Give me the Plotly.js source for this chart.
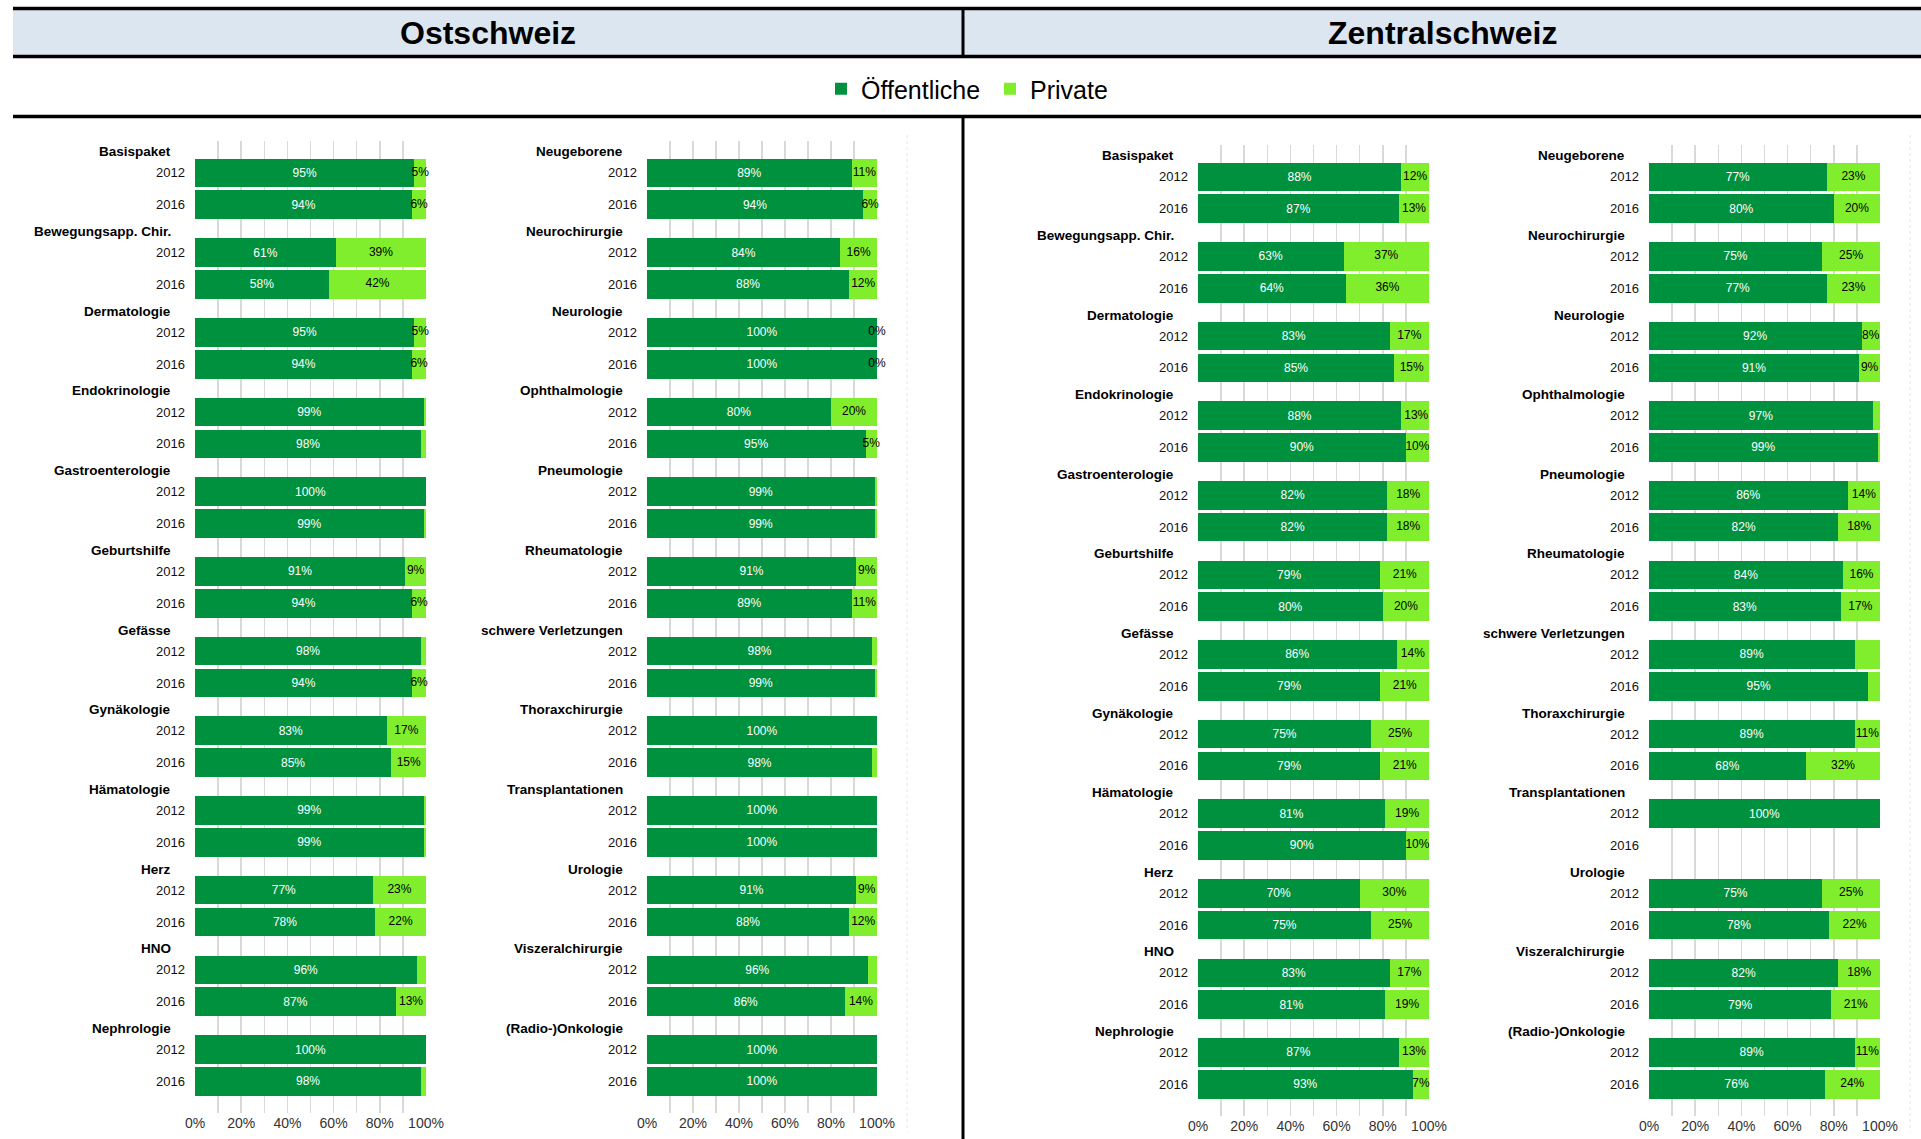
<!DOCTYPE html>
<html>
<head>
<meta charset="utf-8">
<script src="https://cdn.plot.ly/plotly-3.0.1.min.js"></script>
<style>
html,body{margin:0;padding:0;background:#fff;}
#chart{width:1921px;height:1139px;}
</style>
</head>
<body>
<div id="chart"></div>
<script>
// ---------------- DATA ----------------
const years = ['2012', '2016'];
const regions = ['Ostschweiz', 'Zentralschweiz'];
const seriesNames = ['Öffentliche', 'Private'];

const catsA = ['Basispaket', 'Bewegungsapp. Chir.', 'Dermatologie', 'Endokrinologie', 'Gastroenterologie',
  'Geburtshilfe', 'Gefässe', 'Gynäkologie', 'Hämatologie', 'Herz', 'HNO', 'Nephrologie'];
const catsB = ['Neugeborene', 'Neurochirurgie', 'Neurologie', 'Ophthalmologie', 'Pneumologie',
  'Rheumatologie', 'schwere Verletzungen', 'Thoraxchirurgie', 'Transplantationen', 'Urologie',
  'Viszeralchirurgie', '(Radio-)Onkologie'];

// Ostschweiz, left block
const ostA_pub2012 = [95, 61, 95, 99, 100, 91, 98, 83, 99, 77, 96, 100];
const ostA_pvt2012 = [5, 39, 5, 1, 0.4, 9, 2, 17, 1, 23, 4, 0];
const ostA_pub2016 = [94, 58, 94, 98, 99, 94, 94, 85, 99, 78, 87, 98];
const ostA_pvt2016 = [6, 42, 6, 2, 1, 6, 6, 15, 1, 22, 13, 2];
const ostA_lbl2012 = [1, 1, 1, 0, 0, 1, 0, 1, 0, 1, 0, 0];
const ostA_lbl2016 = [1, 1, 1, 0, 0, 1, 1, 1, 0, 1, 1, 0];

// Ostschweiz, right block
const ostB_pub2012 = [89, 84, 100, 80, 99, 91, 98, 100, 100, 91, 96, 100];
const ostB_pvt2012 = [11, 16, 0, 20, 1, 9, 2, 0.3, 0, 9, 4, 0.3];
const ostB_pub2016 = [94, 88, 100, 95, 99, 89, 99, 98, 100, 88, 86, 100];
const ostB_pvt2016 = [6, 12, 0, 5, 1, 11, 1, 2, 0, 12, 14, 0];
const ostB_lbl2012 = [1, 1, 1, 1, 0, 1, 0, 0, 0, 1, 0, 0];
const ostB_lbl2016 = [1, 1, 1, 1, 0, 1, 0, 0, 0, 1, 1, 0];

// Zentralschweiz, left block
const zenA_pub2012 = [88, 63, 83, 88, 82, 79, 86, 75, 81, 70, 83, 87];
const zenA_pvt2012 = [12, 37, 17, 13, 18, 21, 14, 25, 19, 30, 17, 13];
const zenA_pub2016 = [87, 64, 85, 90, 82, 80, 79, 79, 90, 75, 81, 93];
const zenA_pvt2016 = [13, 36, 15, 10, 18, 20, 21, 21, 10, 25, 19, 7];
const zenA_lbl2012 = [1, 1, 1, 1, 1, 1, 1, 1, 1, 1, 1, 1];
const zenA_lbl2016 = [1, 1, 1, 1, 1, 1, 1, 1, 1, 1, 1, 1];

// Zentralschweiz, right block
const zenB_pub2012 = [77, 75, 92, 97, 86, 84, 89, 89, 100, 75, 82, 89];
const zenB_pvt2012 = [23, 25, 8, 3, 14, 16, 11, 11, 0, 25, 18, 11];
const zenB_pub2016 = [80, 77, 91, 99, 82, 83, 95, 68, null, 78, 79, 76];
const zenB_pvt2016 = [20, 23, 9, 1, 18, 17, 5, 32, null, 22, 21, 24];
const zenB_lbl2012 = [1, 1, 1, 0, 1, 1, 0, 1, 0, 1, 1, 1];
const zenB_lbl2016 = [1, 1, 1, 0, 1, 1, 0, 1, 0, 1, 1, 1];

const xTickVals = [0, 20, 40, 60, 80, 100];

// ---------------- STYLE ----------------
const FONT = "'Liberation Sans', Arial, sans-serif";
const C_PUB = '#00913F';
const C_PVT = '#80EE2C';
const GRID = '#d9d9d9';
const W = 1921, H = 1139;
const px = v => v / W;
const py = v => 1 - v / H;

const panels = [
  {cats: catsA, pub: [ostA_pub2012, ostA_pub2016], pvt: [ostA_pvt2012, ostA_pvt2016], lbl: [ostA_lbl2012, ostA_lbl2016],
   xd: [195, 426], yd: [141, 1113.3], id: ''},
  {cats: catsB, pub: [ostB_pub2012, ostB_pub2016], pvt: [ostB_pvt2012, ostB_pvt2016], lbl: [ostB_lbl2012, ostB_lbl2016],
   xd: [647, 877], yd: [141, 1113.3], id: '2'},
  {cats: catsA, pub: [zenA_pub2012, zenA_pub2016], pvt: [zenA_pvt2012, zenA_pvt2016], lbl: [zenA_lbl2012, zenA_lbl2016],
   xd: [1198, 1429], yd: [145, 1116.1], id: '3'},
  {cats: catsB, pub: [zenB_pub2012, zenB_pub2016], pvt: [zenB_pvt2012, zenB_pvt2016], lbl: [zenB_lbl2012, zenB_lbl2016],
   xd: [1649, 1880], yd: [145, 1116.1], id: '4'}
];

const GROUP_STEP = 2.5;
const pos = (g, k) => g * GROUP_STEP + k;
const fmt = v => (v === null || v === undefined) ? '' : Math.round(v) + '%';

const traces = [];
const annotations = [];
const layout = {
  width: W, height: H,
  margin: {l: 0, r: 0, t: 0, b: 0},
  paper_bgcolor: '#fff', plot_bgcolor: 'rgba(0,0,0,0)',
  barmode: 'stack',
  showlegend: true,
  legend: {orientation: 'h', x: px(821), xanchor: 'left', y: py(89), yanchor: 'middle',
           entrywidth: 124, entrywidthmode: 'pixels',
           font: {family: FONT, size: 25, color: '#000'}, bgcolor: 'rgba(0,0,0,0)', itemclick: false},
  font: {family: FONT},
  hovermode: false,
  shapes: [],
  annotations: annotations
};

panels.forEach((p, pi) => {
  const xa = 'x' + p.id, ya = 'y' + p.id;
  const ys = [], pubs = [], pvts = [], pubText = [], tx = [], ty = [], tt = [];
  p.cats.forEach((c, g) => {
    years.forEach((yr, k) => {
      const pu = p.pub[k][g], pv = p.pvt[k][g];
      ys.push(pos(g, k));
      pubs.push(pu);
      pvts.push(pv);
      pubText.push(fmt(pu));
      if (p.lbl[k][g] && pu !== null) {
        tx.push(pu + pv / 2);
        ty.push(pos(g, k));
        tt.push(fmt(pv));
      }
    });
    annotations.push({
      xref: xa + ' domain', yref: ya, x: 0, y: pos(g, 0) - 0.66,
      xanchor: 'right', yanchor: 'middle', xshift: -22, showarrow: false,
      text: '<b>' + c + '</b>', font: {family: FONT, size: 13.5, color: '#000'}
    });
  });
  traces.push({
    type: 'bar', orientation: 'h', name: seriesNames[0], legendgroup: 'pub', showlegend: pi === 0,
    x: pubs, y: ys, xaxis: xa, yaxis: ya, width: 0.9,
    marker: {color: C_PUB, line: {width: 0}},
    text: pubText, textposition: 'inside', insidetextanchor: 'middle', textangle: 0,
    textfont: {family: FONT, size: 12, color: '#ffffff'}, hoverinfo: 'skip'
  });
  traces.push({
    type: 'bar', orientation: 'h', name: seriesNames[1], legendgroup: 'pvt', showlegend: pi === 0,
    x: pvts, y: ys, xaxis: xa, yaxis: ya, width: 0.9,
    marker: {color: C_PVT, line: {width: 0}},
    textposition: 'none', hoverinfo: 'skip'
  });
  traces.push({
    type: 'scatter', mode: 'text', showlegend: false, cliponaxis: false,
    x: tx, y: ty, text: tt, xaxis: xa, yaxis: ya,
    textposition: 'middle center',
    textfont: {family: FONT, size: 12, color: '#000'}, hoverinfo: 'skip'
  });
  const tickVals = [], tickText = [];
  p.cats.forEach((c, g) => years.forEach((yr, k) => { tickVals.push(pos(g, k)); tickText.push(yr); }));
  layout['xaxis' + p.id] = {
    domain: [px(p.xd[0]), px(p.xd[1])], anchor: ya, range: [0, 100],
    tickvals: xTickVals, ticktext: xTickVals.map(v => v + '%'),
    showgrid: true, gridcolor: GRID, gridwidth: 1.5,
    minor: {dtick: 10, showgrid: true, gridcolor: GRID, gridwidth: 1.5, ticks: ''},
    zeroline: false, showline: false, ticks: '',
    tickfont: {family: FONT, size: 14, color: '#333'}, fixedrange: true
  };
  layout['yaxis' + p.id] = {
    domain: [py(p.yd[1]), py(p.yd[0])], anchor: xa, range: [29.5, -1],
    tickvals: tickVals, ticktext: tickText, showgrid: false, zeroline: false, showline: false,
    ticks: '', ticklabelstandoff: 9,
    tickfont: {family: FONT, size: 13, color: '#111'}, fixedrange: true
  };
});

// Header band & frame lines
const LX = px(13);
layout.shapes.push(
  {type: 'rect', xref: 'paper', yref: 'paper', x0: LX, x1: 1, y0: py(56), y1: py(9), fillcolor: '#DCE6F1', line: {width: 0}, layer: 'below'},
  {type: 'line', xref: 'paper', yref: 'paper', x0: LX, x1: 1, y0: py(8.5), y1: py(8.5), line: {color: '#000', width: 3.5}},
  {type: 'line', xref: 'paper', yref: 'paper', x0: LX, x1: 1, y0: py(56.5), y1: py(56.5), line: {color: '#000', width: 3.5}},
  {type: 'line', xref: 'paper', yref: 'paper', x0: px(963), x1: px(963), y0: py(8.5), y1: py(56.5), line: {color: '#000', width: 3}},
  {type: 'line', xref: 'paper', yref: 'paper', x0: LX, x1: 1, y0: py(116.5), y1: py(116.5), line: {color: '#000', width: 3.5}},
  {type: 'line', xref: 'paper', yref: 'paper', x0: px(963), x1: px(963), y0: py(116.5), y1: 0, line: {color: '#000', width: 3}},
  {type: 'line', xref: 'paper', yref: 'paper', x0: px(907), x1: px(907), y0: py(135), y1: py(1132), line: {color: '#e6e6e6', width: 1, dash: 'dot'}},
  {type: 'line', xref: 'paper', yref: 'paper', x0: px(1910), x1: px(1910), y0: py(135), y1: py(1132), line: {color: '#e6e6e6', width: 1, dash: 'dot'}}
);

annotations.push(
  {xref: 'paper', yref: 'paper', x: px(488), y: py(33), xanchor: 'center', yanchor: 'middle', showarrow: false,
   text: '<b>' + regions[0] + '</b>', font: {family: FONT, size: 32, color: '#000'}},
  {xref: 'paper', yref: 'paper', x: px(1442), y: py(33), xanchor: 'center', yanchor: 'middle', showarrow: false,
   text: '<b>' + regions[1] + '</b>', font: {family: FONT, size: 32, color: '#000'}}
);

Plotly.newPlot('chart', traces, layout, {staticPlot: true, displayModeBar: false});
</script>
</body>
</html>
